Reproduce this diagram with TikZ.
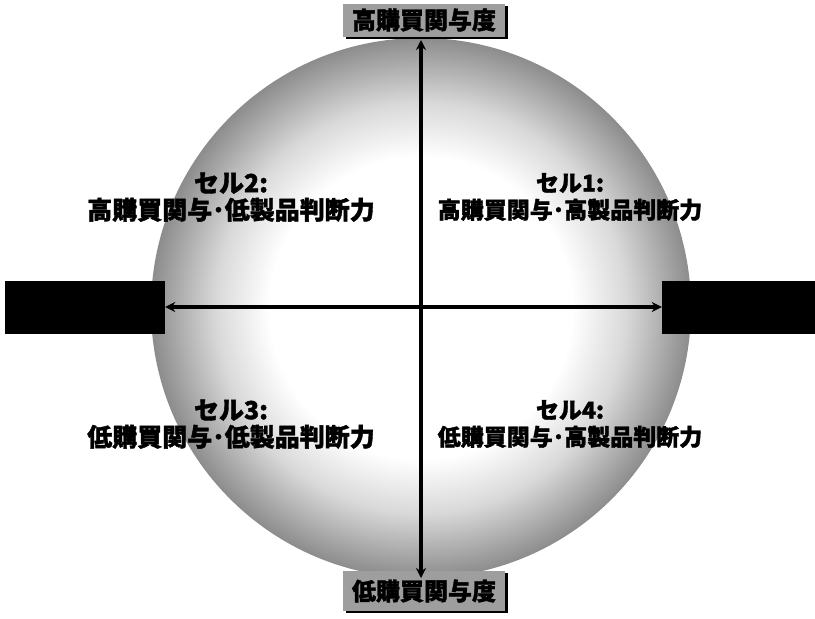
\documentclass[tikz,border=0pt]{standalone}
\usepackage{fontspec}
\newfontfamily\cjk{Noto Sans CJK JP}[BoldFeatures={FakeBold=1.5}]
\usetikzlibrary{arrows.meta,shadows}
\pgfdeclareradialshading{disc}{\pgfpoint{0bp}{0bp}}{%
  color(0bp)=(white); color(14bp)=(white); color(19bp)=(black!15);
  color(23bp)=(black!35); color(25bp)=(black!45); color(50bp)=(black!45)}
\tikzset{
  axislabel/.style={draw=none, fill=black!38, minimum width=162pt,
    inner sep=0pt, font=\cjk\bfseries\fontsize{24}{28}\selectfont, text=black,
    drop shadow={shadow xshift=3pt, shadow yshift=-2pt, fill=black, opacity=1}},
  sidebar/.style={fill=black, minimum width=160pt, minimum height=53pt, inner sep=0pt},
  cell/.style={align=center, text=black},
  axis/.style={line width=3.2pt, {Stealth[length=10pt,width=10pt]}-{Stealth[length=10pt,width=10pt]}}
}
\begin{document}
\begin{tikzpicture}[x=1pt,y=-1pt]
\useasboundingbox (0,0) rectangle (815,619);
\node[circle, minimum size=540pt, inner sep=0pt, shading=disc] (circ) at (421,308) {};
\node[sidebar] (lbar) at (85,307) {};
\node[sidebar] (rbar) at (742,307) {};
\node[axislabel, minimum height=33pt] (top) at (424,20) {高購買関与度};
\node[axislabel, minimum height=40pt] (bot) at (424,591) {低購買関与度};
\coordinate (vt) at (421,40);
\coordinate (vb) at (421,578);
\draw[axis] (vt) -- (vb);
\draw[axis] (lbar.east) -- (rbar.west);
\node[cell, font=\cjk\bfseries\fontsize{25}{27}\selectfont] (c2) at (231,197) {セル2:\\高購買関与･低製品判断力};
\node[cell, font=\cjk\bfseries\fontsize{23}{27}\selectfont] (c1) at (570,197) {セル1:\\高購買関与･高製品判断力};
\node[cell, font=\cjk\bfseries\fontsize{25}{27}\selectfont] (c3) at (231,424) {セル3:\\低購買関与･低製品判断力};
\node[cell, font=\cjk\bfseries\fontsize{23}{27}\selectfont] (c4) at (570,424) {セル4:\\低購買関与･高製品判断力};
\end{tikzpicture}
\end{document}
